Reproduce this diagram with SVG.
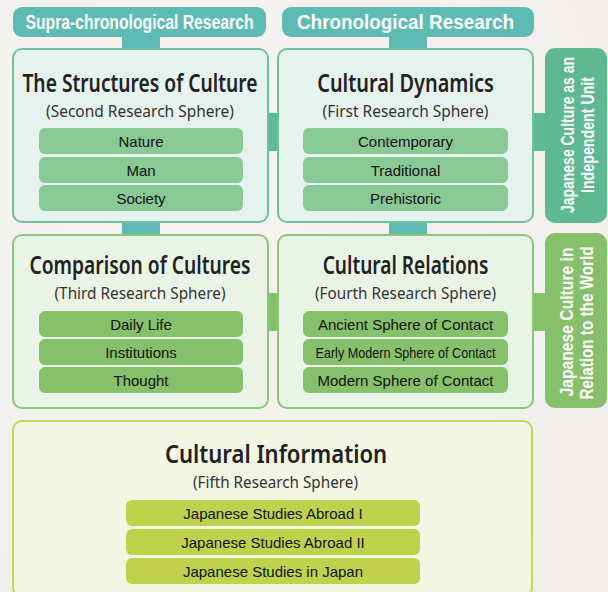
<svg xmlns="http://www.w3.org/2000/svg" width="608" height="592" viewBox="0 0 608 592">
<style>
.hdr{fill:#5dbbb4}
.hdrt{font-family:"Liberation Sans",Arial,sans-serif;font-weight:bold;font-size:20px;fill:#fff;text-anchor:middle}
.b1{fill:#e6f2ed;stroke:#6fc29d;stroke-width:2}
.b2{fill:#eaf4e6;stroke:#8dc677;stroke-width:2}
.b3{fill:#f3f6e3;stroke:#c2d653;stroke-width:2}
.p1{fill:#89c996}
.p2{fill:#86c06a}
.p3{fill:#bed34b}
.tt{font-family:"Noto Sans","Open Sans",sans-serif;font-weight:600;font-size:26px;fill:#222;text-anchor:middle}
.st{font-family:"Noto Sans","Open Sans",sans-serif;font-size:16px;fill:#333;text-anchor:middle}
.pt{font-family:"Liberation Sans",Arial,sans-serif;font-size:15px;fill:#111;text-anchor:middle}
.vt{font-family:"Liberation Sans",Arial,sans-serif;font-weight:bold;font-size:18px;fill:#fff;text-anchor:middle}
</style>
<defs>
<radialGradient id="bg" cx="0.3" cy="0.3" r="0.9">
<stop offset="0" stop-color="#f6f5f2"/>
<stop offset="1" stop-color="#efeeea"/>
</radialGradient>
</defs>
<rect width="608" height="592" fill="url(#bg)"/>

<g id="connectors">
<rect x="122" y="36" width="38" height="14" fill="#5dbbb4"/>
<rect x="389" y="36" width="38" height="14" fill="#5dbbb4"/>
<rect x="122" y="221" width="38" height="15" fill="#5dbbb4"/>
<rect x="389" y="221" width="38" height="15" fill="#5dbbb4"/>
<rect x="267" y="113" width="12" height="38" fill="#5fb896"/>
<rect x="532" y="113" width="14" height="38" fill="#5fb896"/>
<rect x="267" y="293" width="12" height="38" fill="#86c06a"/>
<rect x="532" y="293" width="14" height="38" fill="#86c06a"/>
</g>

<g id="hdr-supra">
<rect class="hdr" x="13" y="7" width="253" height="30" rx="9"/>
<text class="hdrt" x="139.5" y="29" textLength="228" lengthAdjust="spacingAndGlyphs">Supra-chronological Research</text>
</g>
<g id="hdr-chrono">
<rect class="hdr" x="282" y="7" width="252" height="30" rx="9"/>
<text class="hdrt" x="405.5" y="29" textLength="217" lengthAdjust="spacingAndGlyphs">Chronological Research</text>
</g>

<g id="structures">
<rect class="b1" x="13" y="49" width="255" height="173" rx="9"/>
<text class="tt" transform="translate(140,92) scale(0.74,1)">The Structures of Culture</text>
<text class="st" x="140" y="117" textLength="188" lengthAdjust="spacingAndGlyphs">(Second Research Sphere)</text>
<rect class="p1" x="39" y="128" width="204" height="26" rx="6"/>
<text class="pt" x="141" y="147">Nature</text>
<rect class="p1" x="39" y="157" width="204" height="26" rx="6"/>
<text class="pt" x="141" y="176">Man</text>
<rect class="p1" x="39" y="185" width="204" height="26" rx="6"/>
<text class="pt" x="141" y="204">Society</text>
</g>

<g id="dynamics">
<rect class="b1" x="278" y="49" width="255" height="173" rx="9"/>
<text class="tt" transform="translate(405.5,92) scale(0.765,1)">Cultural Dynamics</text>
<text class="st" x="405.5" y="117" textLength="166" lengthAdjust="spacingAndGlyphs">(First Research Sphere)</text>
<rect class="p1" x="303" y="128" width="205" height="26" rx="6"/>
<text class="pt" x="405.5" y="147">Contemporary</text>
<rect class="p1" x="303" y="157" width="205" height="26" rx="6"/>
<text class="pt" x="405.5" y="176">Traditional</text>
<rect class="p1" x="303" y="185" width="205" height="26" rx="6"/>
<text class="pt" x="405.5" y="204">Prehistoric</text>
</g>

<g id="side-unit">
<rect x="545" y="48" width="62" height="175" rx="10" fill="#5fb894"/>
<text class="vt" transform="translate(574,135) rotate(-90)" textLength="156" lengthAdjust="spacingAndGlyphs">Japanese Culture as an</text>
<text class="vt" transform="translate(594,135) rotate(-90)" textLength="116" lengthAdjust="spacingAndGlyphs">Independent Unit</text>
</g>

<g id="comparison">
<rect class="b2" x="13" y="235" width="255" height="173" rx="9"/>
<text class="tt" transform="translate(140,274) scale(0.74,1)">Comparison of Cultures</text>
<text class="st" x="140" y="299" textLength="171" lengthAdjust="spacingAndGlyphs">(Third Research Sphere)</text>
<rect class="p2" x="39" y="311" width="204" height="26" rx="6"/>
<text class="pt" x="141" y="330">Daily Life</text>
<rect class="p2" x="39" y="339" width="204" height="26" rx="6"/>
<text class="pt" x="141" y="358">Institutions</text>
<rect class="p2" x="39" y="367" width="204" height="26" rx="6"/>
<text class="pt" x="141" y="386">Thought</text>
</g>

<g id="relations">
<rect class="b2" x="278" y="235" width="255" height="173" rx="9"/>
<text class="tt" transform="translate(405.5,274) scale(0.735,1)">Cultural Relations</text>
<text class="st" x="405.5" y="299" textLength="181" lengthAdjust="spacingAndGlyphs">(Fourth Research Sphere)</text>
<rect class="p2" x="303" y="311" width="205" height="26" rx="6"/>
<text class="pt" x="405.5" y="330">Ancient Sphere of Contact</text>
<rect class="p2" x="303" y="339" width="205" height="26" rx="6"/>
<text class="pt" x="405.5" y="358" textLength="180" lengthAdjust="spacingAndGlyphs">Early Modern Sphere of Contact</text>
<rect class="p2" x="303" y="367" width="205" height="26" rx="6"/>
<text class="pt" x="405.5" y="386">Modern Sphere of Contact</text>
</g>

<g id="side-world">
<rect x="545" y="233" width="62" height="175" rx="10" fill="#86c06a"/>
<text class="vt" transform="translate(573,322) rotate(-90)" textLength="149" lengthAdjust="spacingAndGlyphs">Japanese Culture in</text>
<text class="vt" transform="translate(593,323) rotate(-90)" textLength="153" lengthAdjust="spacingAndGlyphs">Relation to the World</text>
</g>

<g id="information">
<rect class="b3" x="13" y="421" width="519" height="175" rx="9"/>
<text class="tt" transform="translate(276,463) scale(0.85,1)">Cultural Information</text>
<text class="st" x="275.5" y="488" textLength="165" lengthAdjust="spacingAndGlyphs">(Fifth Research Sphere)</text>
<rect class="p3" x="126" y="500" width="294" height="26" rx="6"/>
<text class="pt" x="273" y="519">Japanese Studies Abroad I</text>
<rect class="p3" x="126" y="529" width="294" height="26" rx="6"/>
<text class="pt" x="273" y="548">Japanese Studies Abroad II</text>
<rect class="p3" x="126" y="558" width="294" height="26" rx="6"/>
<text class="pt" x="273" y="577">Japanese Studies in Japan</text>
</g>
</svg>
